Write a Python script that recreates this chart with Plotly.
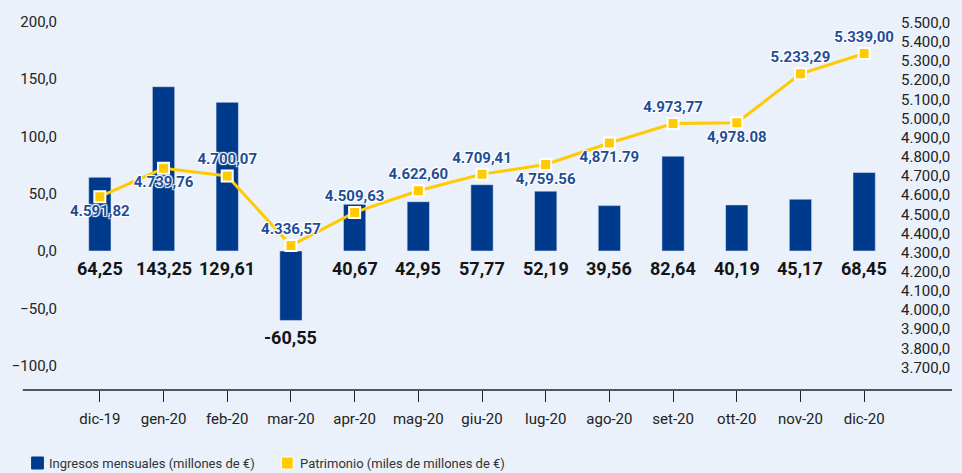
import plotly.graph_objects as go

months = ["dic-19", "gen-20", "feb-20", "mar-20", "apr-20", "mag-20", "giu-20",
          "lug-20", "ago-20", "set-20", "ott-20", "nov-20", "dic-20"]
ingresos = [64.25, 143.25, 129.61, -60.55, 40.67, 42.95, 57.77, 52.19, 39.56,
            82.64, 40.19, 45.17, 68.45]
patrimonio = [4591.82, 4739.76, 4700.07, 4336.57, 4509.63, 4622.60, 4709.41,
              4759.56, 4871.79, 4973.77, 4978.08, 5233.29, 5339.00]
patrimonio_labels = ["4.591,82", "4.739,76", "4.700,07", "4.336,57", "4.509,63",
                     "4.622,60", "4.709,41", "4,759.56", "4,871.79", "4.973,77",
                     "4,978.08", "5.233,29", "5.339,00"]
label_pos = ["bottom center", "bottom center", "top center", "top center", "top center",
             "top center", "top center", "bottom center", "bottom center", "top center",
             "bottom center", "top center", "top center"]
left_ticks = [-100, -50, 0, 50, 100, 150, 200]
right_ticks = list(range(3700, 5501, 100))
legend_names = ["Ingresos mensuales (millones de €)", "Patrimonio (miles de millones de €)"]

BLUE = "#003A8C"
YELLOW = "#FFCA00"
LABEL_BLUE = "#1F4E97"
BG = "#EAF1FA"

W, H = 962, 473
L, R, T, B = 63, 57, 20, 83
PW, PH = W - L - R, H - T - B


def px_x(p):
    return (p - L) / PW


def px_y(p):
    return (H - B - p) / PH


fig = go.Figure()
fig.add_trace(go.Bar(
    x=months, y=ingresos, name=legend_names[0], marker_color=BLUE,
    width=0.35, showlegend=False, hoverinfo="skip"))
fig.add_trace(go.Scatter(
    x=months, y=patrimonio, name=legend_names[1], yaxis="y2",
    mode="lines+markers+text",
    line=dict(color=YELLOW, width=3),
    marker=dict(symbol="square", size=11, color=YELLOW, line=dict(color="white", width=2)),
    text=patrimonio_labels, textposition=label_pos,
    textfont=dict(family="Roboto", size=15, color=LABEL_BLUE, weight="bold",
                  shadow="1px 1px 1px white, -1px -1px 1px white, 1px -1px 1px white, -1px 1px 1px white"),
    showlegend=False, cliponaxis=False, hoverinfo="skip"))

annotations = []
for m, v in zip(months, ingresos):
    annotations.append(dict(
        x=m, y=min(v, 0), xref="x", yref="y", yanchor="top", yshift=-5,
        text=f"{v:.2f}".replace(".", ","), showarrow=False,
        font=dict(family="Roboto", size=18, color="#151515", weight="bold")))

# manual legend
legend_items = [(legend_names[0], BLUE, 26, 42), (legend_names[1], YELLOW, 280, 297)]
shapes = []
for name, col, sx, tx in legend_items:
    shapes.append(dict(type="rect", xref="paper", yref="paper",
                       x0=px_x(sx), x1=px_x(sx + 12), y0=px_y(457), y1=px_y(469),
                       fillcolor=col, line=dict(color="white" if col == YELLOW else col, width=1)))
    annotations.append(dict(x=px_x(tx), y=px_y(463), xref="paper", yref="paper",
                            xanchor="left", yanchor="middle", text=name, showarrow=False,
                            font=dict(family="Roboto", size=13, color="#333333")))

# bottom axis line spanning full width
shapes.append(dict(type="line", xref="paper", yref="paper",
                   x0=px_x(17), x1=px_x(962), y0=0, y1=0,
                   line=dict(color="#222222", width=1.3)))

fig.update_layout(
    width=W, height=H,
    margin=dict(l=L, r=R, t=T, b=B),
    paper_bgcolor=BG, plot_bgcolor=BG,
    separators=",.",
    font=dict(family="Roboto", size=15, color="#222222"),
    bargap=0.65,
    xaxis=dict(type="category", range=[-0.5, 12.5], showgrid=False, showline=False,
               ticks="outside", ticklen=11, tickcolor="#222222", tickwidth=1.3,
               ticklabelstandoff=4, tickfont=dict(size=15, color="#222222"), zeroline=False),
    yaxis=dict(range=[-121.2, 201.4], tickvals=left_ticks, tickformat=".1f",
               showgrid=False, zeroline=False, showline=False,
               ticklabelstandoff=10, tickfont=dict(size=15, color="#222222")),
    yaxis2=dict(range=[3582.5, 5514.1], tickvals=right_ticks, tickformat=",.1f",
                overlaying="y", side="right", showgrid=False, zeroline=False,
                showline=False, ticklabelstandoff=4,
                tickfont=dict(size=15, color="#222222")),
    annotations=annotations, shapes=shapes,
    showlegend=False,
)

fig.write_html("out.html", config={"displayModeBar": False},
               post_script="document.body.style.margin='0';document.body.style.overflow='hidden';")
